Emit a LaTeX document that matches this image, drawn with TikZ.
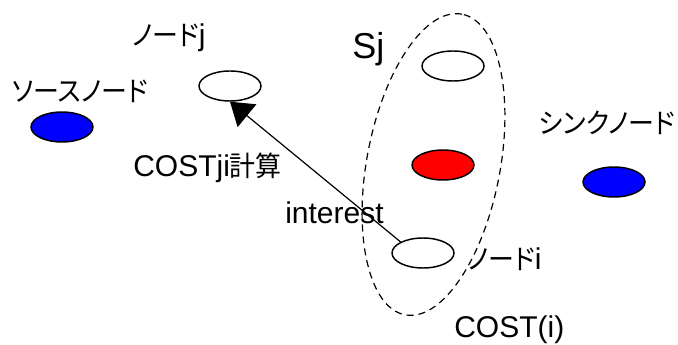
\documentclass[tikz,border=0pt]{standalone}
\usepackage{fontspec}
\setmainfont{Liberation Sans}
\newfontfamily\jp[Scale=0.93, FakeStretch=0.93, RawFeature=+palt]{Noto Sans CJK JP}
\usetikzlibrary{shapes.geometric,arrows.meta}

\tikzset{
  sensor/.style={ellipse, draw, line width=1.1pt, minimum width=46.5pt, minimum height=22.5pt, inner sep=0pt},
  lbl/.style={anchor=base west, inner sep=0pt, font=\fontsize{22.5}{25}\selectfont},
}

\begin{document}
\begin{tikzpicture}[x=0.75pt,y=0.75pt,yscale=-1,xscale=1]
\useasboundingbox (0,0) rectangle (678,345);

%Ellipses
\node [sensor, fill={rgb, 255:red, 0; green, 0; blue, 255 }] (src) at (62,127) {};
\node [sensor, fill=white] (nj) at (230,86) {};
\node [sensor, fill=white] (s1) at (453,66) {};
\node [sensor, fill={rgb, 255:red, 255; green, 0; blue, 0 }] (sr) at (443,165) {};
\node [sensor, fill=white] (ni) at (423,253) {};
\node [sensor, fill={rgb, 255:red, 0; green, 0; blue, 255 }] (snk) at (614,182) {};

%Dashed group Sj
\node [ellipse, draw, dash pattern={on 5.25pt off 3.75pt}, line width=0.9pt, minimum width=229.5pt, minimum height=100pt, rotate=79.3] (sjset) at (433.5,164.5) {};

%Straight Lines
\draw [line width=0.9pt, -{Triangle[length=16.5pt,width=22pt]}] (ni.north west) -- (nj.south);

% Text Node
\node [lbl] (tsrc) at (12,102) {\jp ソースノード};
% Text Node
\node [lbl] (tnj) at (132,46) {{\jp ノード}j};
% Text Node
\node [lbl] (tcji) at (133,177) {COSTji{\jp 計算}};
% Text Node
\node [lbl] (tint) at (285,224) {interest};
% Text Node
\node [lbl, font=\fontsize{27}{30}\selectfont] (tsj) at (352,59) {Sj};
% Text Node
\node [lbl] (tsnk) at (539,134) {\jp シンクノード};
% Text Node
\node [lbl] (tni) at (468,270) {{\jp ノード}i};
% Text Node
\node [lbl] (tcost) at (454,337) {COST(i)};

\end{tikzpicture}
\end{document}
